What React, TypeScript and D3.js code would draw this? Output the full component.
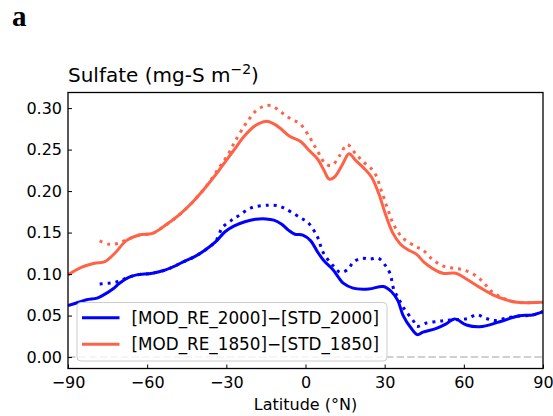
import React, { useEffect, useRef } from "react";
import * as d3 from "d3";

// latitude / value pairs
const blueSolid: [number, number][] = [
  [-90, 0.062], [-86, 0.066], [-83, 0.069], [-79, 0.071], [-77, 0.074], [-73, 0.082],
  [-70.5, 0.089], [-67, 0.096], [-64, 0.099], [-58, 0.101], [-53, 0.105], [-50, 0.109],
  [-45.5, 0.116], [-42, 0.121], [-38, 0.129], [-34, 0.139], [-30.5, 0.151], [-27, 0.158],
  [-23, 0.163], [-19, 0.166], [-15, 0.1665], [-12, 0.165], [-9, 0.16], [-6.5, 0.153],
  [-4, 0.148], [-1, 0.147], [2, 0.14], [4.5, 0.127], [7, 0.116], [10.5, 0.105],
  [12.5, 0.096], [14.3, 0.089], [18, 0.083], [24, 0.082], [29.5, 0.085], [32.5, 0.079],
  [35, 0.068], [37, 0.05], [40, 0.035], [42.4, 0.027], [44.5, 0.03], [49.6, 0.0345],
  [53.3, 0.04], [56.5, 0.046], [61, 0.0386], [66, 0.0365], [73.6, 0.0425], [81, 0.0498],
  [86, 0.0506], [90, 0.0546],
];

const blueDotted: [number, number][] = [
  [-78, 0.088], [-74.5, 0.089], [-71, 0.091], [-68, 0.095], [-64, 0.099], [-58, 0.101],
  [-53, 0.105], [-50, 0.109], [-45.5, 0.116], [-42, 0.121], [-38, 0.129], [-34, 0.14],
  [-31.5, 0.156], [-28, 0.165], [-25.5, 0.17], [-20.4, 0.18], [-14, 0.183], [-10, 0.182],
  [-7.8, 0.179], [-4, 0.172], [-1.5, 0.167], [0.7, 0.163], [4.5, 0.145], [6.7, 0.126],
  [10.5, 0.11], [13.3, 0.102], [16.2, 0.106], [18.1, 0.1145], [21.3, 0.119], [24.4, 0.118],
  [27.6, 0.119], [30.1, 0.111], [32, 0.101], [33.5, 0.081], [35.2, 0.071], [37.3, 0.0586],
  [41.1, 0.0425], [42.1, 0.037], [45.9, 0.041], [50.3, 0.043], [53, 0.044], [57, 0.045],
  [61.5, 0.0465], [64.8, 0.051], [68.5, 0.0465], [72, 0.044], [76, 0.047], [80, 0.049],
  [86, 0.0506], [90, 0.0546],
];

const redSolid: [number, number][] = [
  [-90, 0.099], [-85, 0.108], [-80, 0.113], [-76, 0.115], [-72, 0.126], [-68, 0.14],
  [-63, 0.147], [-58, 0.149], [-53, 0.159], [-48, 0.171], [-43, 0.186], [-38, 0.204],
  [-33, 0.224], [-30.5, 0.235], [-27, 0.25], [-23, 0.267], [-19, 0.279],
  [-15, 0.284], [-12, 0.281], [-9.7, 0.276], [-6, 0.266], [-2, 0.26], [1.7, 0.248],
  [4.5, 0.239], [7, 0.225], [9, 0.2145], [11, 0.217], [14, 0.232], [16.5, 0.245],
  [19, 0.237], [22, 0.228], [25, 0.217], [28, 0.195], [30, 0.175], [33, 0.15], [36, 0.136],
  [39, 0.129], [42, 0.124], [45, 0.114], [48, 0.107], [52, 0.101], [57, 0.101], [61, 0.094],
  [66, 0.084], [71, 0.075], [76, 0.069], [80, 0.066], [90, 0.066],
];

const redDotted: [number, number][] = [
  [-78, 0.14], [-74.5, 0.136], [-71, 0.137], [-68, 0.141], [-63, 0.147], [-58, 0.149],
  [-53, 0.159], [-48, 0.171], [-43, 0.186], [-38, 0.204], [-33, 0.227],
  [-29, 0.246], [-26.7, 0.26], [-23.3, 0.278], [-21.3, 0.287], [-19, 0.296], [-16, 0.302],
  [-13, 0.303], [-10, 0.297], [-7.5, 0.291], [-5, 0.286], [-2, 0.281], [1.7, 0.264],
  [3.5, 0.254], [5.5, 0.243], [7.5, 0.233], [10, 0.231], [13, 0.243], [15.8, 0.256],
  [19, 0.245], [22, 0.235], [26, 0.223], [29, 0.198], [31.5, 0.175], [33.5, 0.159],
  [37, 0.143], [42, 0.133], [44.5, 0.129], [48, 0.118], [52, 0.11], [56, 0.107], [60, 0.105],
  [65, 0.097], [68, 0.088], [70.5, 0.079], [75, 0.071], [80, 0.066], [90, 0.066],
];

const xTicks = [-90, -60, -30, 0, 30, 60, 90];
const yTicks = [0, 0.05, 0.1, 0.15, 0.2, 0.25, 0.3];
const legendLabels = ["[MOD_RE_2000]\u2212[STD_2000]", "[MOD_RE_1850]\u2212[STD_1850]"];
const BLUE = "#0000ff";
const RED = "#ff6347";

export default function App() {
  const ref = useRef<SVGSVGElement>(null);

  useEffect(() => {
    const width = 553, height = 416;
    const margin = { top: 92.5, right: 10, bottom: 47.5, left: 68 };
    const font = "'DejaVu Sans', sans-serif";

    const svg = d3.select(ref.current);
    svg.selectAll("*").remove();
    svg.attr("width", width).attr("height", height);

    const x = d3.scaleLinear().domain([-90, 90]).range([margin.left, width - margin.right]);
    const y = d3.scaleLinear().domain([-0.0138, 0.3188]).range([height - margin.bottom, margin.top]);

    svg.append("defs").append("clipPath").attr("id", "plot")
      .append("rect")
      .attr("x", margin.left).attr("y", margin.top)
      .attr("width", width - margin.left - margin.right)
      .attr("height", height - margin.top - margin.bottom);

    // zero line
    svg.append("line")
      .attr("x1", x(-90)).attr("x2", x(90))
      .attr("y1", y(0)).attr("y2", y(0))
      .attr("stroke", "#d0d0d0").attr("stroke-width", 2)
      .attr("stroke-dasharray", "7.4,3.2");

    const line = d3.line<[number, number]>()
      .x(d => x(d[0])).y(d => y(d[1]))
      .curve(d3.curveCatmullRom.alpha(0.5));

    const g = svg.append("g").attr("clip-path", "url(#plot)");
    const series = [
      { data: blueSolid, color: BLUE, dash: null },
      { data: blueDotted, color: BLUE, dash: "3,4.95" },
      { data: redSolid, color: RED, dash: null },
      { data: redDotted, color: RED, dash: "3,4.95" },
    ];
    series.forEach(s => {
      g.append("path")
        .attr("d", line(s.data))
        .attr("fill", "none")
        .attr("stroke", s.color)
        .attr("stroke-width", 3)
        .attr("stroke-dasharray", s.dash);
    });

    // axes with inward ticks
    const xAxis = svg.append("g")
      .attr("transform", `translate(0,${height - margin.bottom})`)
      .call(d3.axisBottom(x).tickValues(xTicks).tickSizeInner(-4).tickSizeOuter(0).tickPadding(8)
        .tickFormat(d => d3.format("d")(d as number).replace("-", "\u2212")));
    const yAxis = svg.append("g")
      .attr("transform", `translate(${margin.left},0)`)
      .call(d3.axisLeft(y).tickValues(yTicks).tickSizeInner(-4).tickSizeOuter(0).tickPadding(6)
        .tickFormat(d3.format(".2f")));
    [xAxis, yAxis].forEach(a => {
      a.select(".domain").remove();
      a.selectAll("line").attr("stroke", "#000").attr("stroke-width", 1);
      a.selectAll("text").attr("font-family", font).attr("font-size", 16).attr("fill", "#000");
    });

    // frame
    svg.append("rect")
      .attr("x", margin.left).attr("y", margin.top)
      .attr("width", width - margin.left - margin.right)
      .attr("height", height - margin.top - margin.bottom)
      .attr("fill", "none").attr("stroke", "#000").attr("stroke-width", 1.3);

    // legend
    const lg = svg.append("g");
    lg.append("rect")
      .attr("x", 77).attr("y", 302.5).attr("width", 310).attr("height", 58.5)
      .attr("rx", 4)
      .attr("fill", "#fff").attr("fill-opacity", 0.8)
      .attr("stroke", "#ccc").attr("stroke-width", 1);
    legendLabels.forEach((lab, i) => {
      const ly = 317.7 + i * 26.6;
      lg.append("line")
        .attr("x1", 82).attr("x2", 119.5).attr("y1", ly).attr("y2", ly)
        .attr("stroke", i === 0 ? BLUE : RED).attr("stroke-width", 3);
      lg.append("text")
        .attr("x", 131.5).attr("y", ly + 6)
        .attr("font-family", font).attr("font-size", 16.8).attr("fill", "#000")
        .text(lab);
    });

    // titles
    const title = svg.append("text")
      .attr("x", 68).attr("y", 81.5)
      .attr("font-family", font).attr("font-size", 20).attr("fill", "#000");
    title.append("tspan").text("Sulfate (mg-S m");
    title.append("tspan").attr("font-size", 14).attr("dy", -8).text("\u22122");
    title.append("tspan").attr("dy", 8).text(")");

    svg.append("text")
      .attr("x", (margin.left + width - margin.right) / 2).attr("y", 410)
      .attr("text-anchor", "middle")
      .attr("font-family", font).attr("font-size", 16).attr("fill", "#000")
      .text("Latitude (\u00b0N)");

    svg.append("text")
      .attr("x", 12).attr("y", 26)
      .attr("font-family", "'Liberation Serif', serif").attr("font-weight", "bold")
      .attr("font-size", 29).attr("fill", "#000")
      .text("a");
  }, []);

  return (
    <svg ref={ref} style={{ position: "absolute", left: 0, top: 0, background: "#fff" }}></svg>
  );
}
